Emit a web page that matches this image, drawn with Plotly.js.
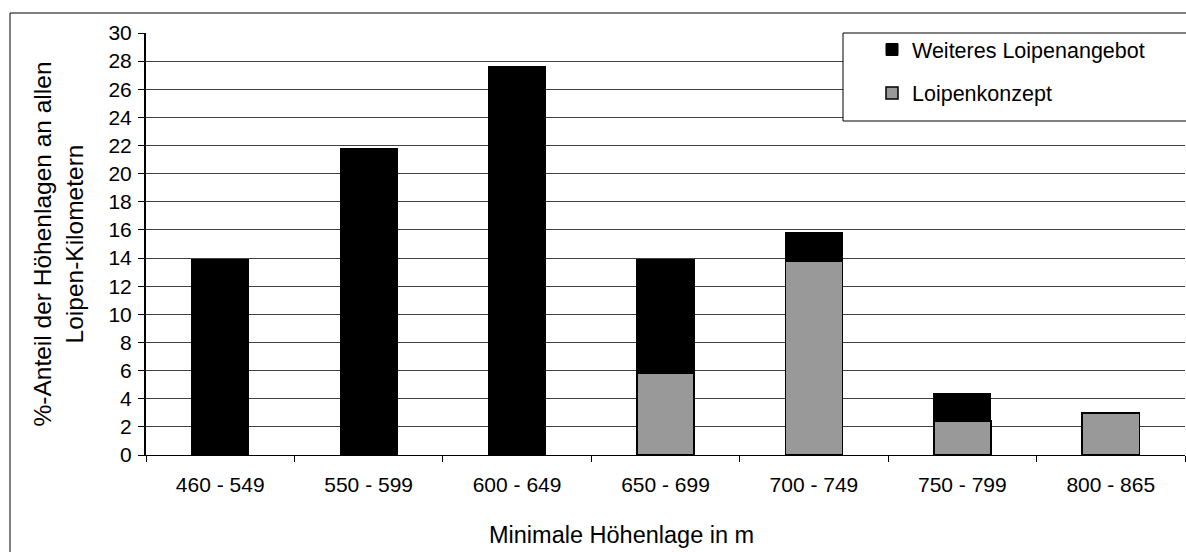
<!DOCTYPE html>
<html>
<head>
<meta charset="utf-8">
<script src="https://cdn.plot.ly/plotly-3.0.1.min.js"></script>
<style>html,body{margin:0;padding:0;background:#fff;}#chart{width:1186px;height:552px;}</style>
</head>
<body>
<div id="chart"></div>
<script>
var categories = ['460 - 549','550 - 599','600 - 649','650 - 699','700 - 749','750 - 799','800 - 865'];
var loipenkonzept = [null, null, null, 5.8, 13.8, 2.4, 3.0];
var weiteresLoipenangebot = [13.9, 21.8, 27.6, 8.1, 2.0, 1.95, null];
var yTicks = [0,2,4,6,8,10,12,14,16,18,20,22,24,26,28,30];

var fam = 'Liberation Sans, Arial, sans-serif';
var tickFont = {family: fam, size: 21, color: '#000'};
var legendFont = {family: fam, size: 21.5, color: '#000'};
var xTitleFont = {family: fam, size: 23.5, color: '#000'};
var yTitleFont = {family: fam, size: 24.5, color: '#000'};

var traces = [
  {type: 'bar', name: 'Loipenkonzept', x: categories, y: loipenkonzept,
   marker: {color: '#999999', line: {color: '#000', width: 1.5}}, legendrank: 2, legendgroup: 'b'},
  {type: 'bar', name: 'Weiteres Loipenangebot', x: categories, y: weiteresLoipenangebot,
   marker: {color: '#000000', line: {color: '#000', width: 1}}, legendrank: 1, legendgroup: 'a'}
];

var L = 146, R = 1185, T = 33, B = 455, W = 1186, H = 552;
var pw = R - L, ph = B - T;
function px(x){ return (x - L) / pw; }
function py(y){ return (B - y) / ph; }

var layout = {
  width: W, height: H,
  margin: {l: L, r: W - R, t: T, b: H - B, pad: 0},
  paper_bgcolor: '#fff', plot_bgcolor: '#fff',
  font: tickFont,
  barmode: 'stack',
  bargap: 0.615,
  showlegend: true,
  legend: {
    x: px(872), xanchor: 'left', y: py(29), yanchor: 'top',
    bgcolor: 'rgba(0,0,0,0)', borderwidth: 0,
    traceorder: 'grouped', tracegroupgap: 12.5,
    font: legendFont
  },
  xaxis: {
    type: 'category',
    showline: true, linecolor: '#000', linewidth: 1,
    ticks: 'outside', tickson: 'boundaries', ticklen: 6, tickcolor: '#000',
    ticklabelstandoff: 11,
    showgrid: false,
    tickfont: tickFont
  },
  yaxis: {
    range: [0, 30], tickvals: yTicks, ticktext: yTicks.map(String),
    showline: true, linecolor: '#000', linewidth: 2,
    ticks: 'outside', ticklen: 6, tickcolor: '#000',
    ticklabelstandoff: 2,
    showgrid: true, gridcolor: '#404040', gridwidth: 1,
    zeroline: false,
    tickfont: tickFont,
    title: {text: '%-Anteil der Höhenlagen an allen<br>Loipen-Kilometern', font: yTitleFont, standoff: 18}
  },
  annotations: [
    {text: 'Minimale Höhenlage in m', xref: 'paper', yref: 'paper', x: px(621), y: py(535),
     xanchor: 'center', yanchor: 'middle', showarrow: false, font: xTitleFont}
  ],
  shapes: [
    {type: 'rect', xref: 'paper', yref: 'paper', x0: px(10), x1: px(1200), y0: py(600), y1: py(13),
     line: {color: '#000', width: 1}, fillcolor: 'rgba(0,0,0,0)', layer: 'below'},
    {type: 'rect', xref: 'paper', yref: 'paper', x0: px(843), x1: px(1200), y0: py(121), y1: py(33),
     line: {color: '#000', width: 1}, fillcolor: '#fff', layer: 'above'}
  ]
};

Plotly.newPlot('chart', traces, layout, {displayModeBar: false, staticPlot: true});
</script>
</body>
</html>
